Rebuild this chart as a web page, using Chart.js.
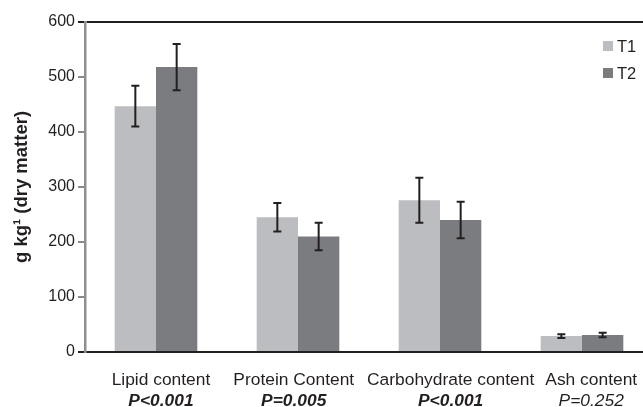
<!DOCTYPE html>
<html>
<head>
<meta charset="utf-8">
<script src="https://cdn.jsdelivr.net/npm/chart.js@4.4.1/dist/chart.umd.min.js"></script>
<style>
html,body{margin:0;padding:0;background:#fff;overflow:hidden;width:643px;height:407px;}
canvas{display:block;}
</style>
</head>
<body>
<canvas id="c" width="653" height="407"></canvas>
<script>
const categories = ["Lipid content", "Protein Content", "Carbohydrate content", "Ash content"];
const pValues = ["P<0.001", "P=0.005", "P<0.001", "P=0.252"];
const pSignificant = [true, true, true, false];
const seriesNames = ["T1", "T2"];
const t1Values = [447, 245, 276, 29];
const t1Errors = [37, 26, 41, 3.5];
const t2Values = [518, 210, 240, 31];
const t2Errors = [42, 25, 33, 4];
const yTicks = [0, 100, 200, 300, 400, 500, 600];

// label anchor positions along the category axis (in category units, 0..4) — layout only
const labelAnchors = [0.535, 1.47, 2.575, 3.565];

const colT1 = '#bcbdc1';
const colT2 = '#7b7c80';
const ink = '#231f20';
const FONT = "'Liberation Sans', Arial, sans-serif";

const errors = [t1Errors, t2Errors];

const errorBarPlugin = {
  id: 'errorBars',
  afterDatasetsDraw(chart) {
    const ctx = chart.ctx;
    const y = chart.scales.y;
    ctx.save();
    ctx.strokeStyle = ink;
    ctx.lineWidth = 2;
    chart.data.datasets.forEach((ds, di) => {
      const meta = chart.getDatasetMeta(di);
      meta.data.forEach((bar, i) => {
        const v = ds.data[i], e = errors[di][i];
        const yt = y.getPixelForValue(v + e);
        const yb = y.getPixelForValue(v - e);
        const x = bar.x;
        ctx.beginPath();
        ctx.moveTo(x, yt); ctx.lineTo(x, yb);
        ctx.moveTo(x - 4, yt); ctx.lineTo(x + 4, yt);
        ctx.moveTo(x - 4, yb); ctx.lineTo(x + 4, yb);
        ctx.stroke();
      });
    });
    ctx.restore();
  }
};

const legendPlugin = {
  id: 'cornerLegend',
  afterDraw(chart) {
    const ctx = chart.ctx;
    ctx.save();
    ctx.font = "16.5px " + FONT;
    ctx.textBaseline = 'middle';
    ctx.textAlign = 'left';
    chart.data.datasets.forEach((ds, i) => {
      const yc = 46 + i * 27;
      ctx.fillStyle = ds.backgroundColor;
      ctx.fillRect(603, yc - 5, 10, 10);
      ctx.fillStyle = ink;
      ctx.fillText(ds.label, 617, yc + 1);
    });
    ctx.restore();
  }
};

const labelAxis = (texts, fontFn, padding, height) => ({
  type: 'linear',
  position: 'bottom',
  offset: false,
  min: 0, max: categories.length,
  grid: { display: false, offset: false },
  border: { display: false },
  afterBuildTicks(s) { s.ticks = labelAnchors.map(v => ({ value: v })); },
  ticks: {
    color: ink, padding: padding, maxRotation: 0, autoSkip: false,
    callback: (v, i) => texts[i],
    font: fontFn
  },
  afterFit(s) { s.height = height; }
});

new Chart(document.getElementById('c'), {
  type: 'bar',
  data: {
    labels: categories,
    datasets: [
      { label: seriesNames[0], data: t1Values, backgroundColor: colT1, xAxisID: 'x' },
      { label: seriesNames[1], data: t2Values, backgroundColor: colT2, xAxisID: 'x' }
    ]
  },
  options: {
    responsive: false,
    animation: false,
    layout: { padding: { top: 22, right: 0, bottom: 0, left: 0 } },
    datasets: { bar: { barPercentage: 1.0, categoryPercentage: 0.582 } },
    plugins: { legend: { display: false }, tooltip: { enabled: false } },
    scales: {
      x: {
        position: 'bottom',
        grid: { display: false },
        border: { display: true, color: ink, width: 2 },
        ticks: { display: false },
        afterFit(s) { s.height = 0; }
      },
      xl: labelAxis(categories, () => ({ family: FONT, size: 17.4 }), 10, 38),
      xp: labelAxis(pValues, (ctx) => ({ family: FONT, size: 17.4, style: 'italic', weight: pSignificant[ctx.index] ? 'bold' : 'normal' }), -7, 17),
      y: {
        min: 0, max: 600,
        afterBuildTicks(s) { s.ticks = yTicks.map(v => ({ value: v })); },
        grid: {
          color: (c) => (c.tick && (c.tick.value === 0 || c.tick.value === 600)) ? ink : 'rgba(0,0,0,0)',
          lineWidth: 2,
          tickColor: (c) => (c.tick && (c.tick.value === 0 || c.tick.value === 600)) ? ink : '#8a8a8a',
          tickLength: 7,
          drawTicks: true
        },
        border: { display: true, color: '#8f8f8f', width: 2.5 },
        ticks: { color: ink, font: { family: FONT, size: 16 }, padding: 3 },
        title: {
          display: true,
          text: 'g kg¹ (dry matter)',
          color: ink,
          font: { family: FONT, size: 18.5, weight: 'bold' },
          padding: { top: 11, bottom: 0 }
        },
        afterFit(s) { s.width = 85; }
      }
    }
  },
  plugins: [errorBarPlugin, legendPlugin]
});
</script>
</body>
</html>
